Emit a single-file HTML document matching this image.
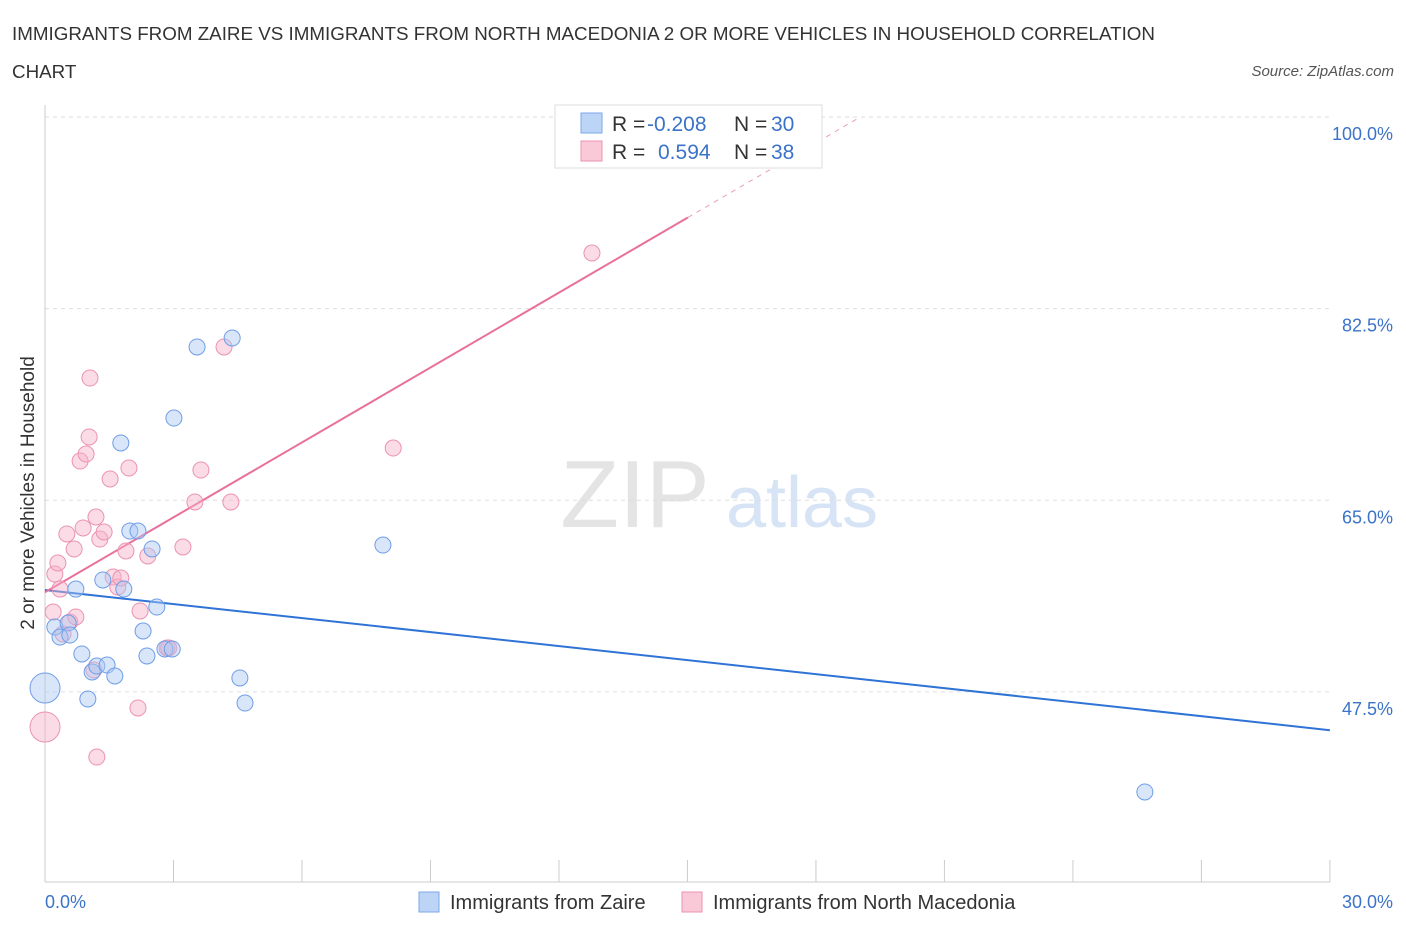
<!DOCTYPE html>
<html><head><meta charset="utf-8"><style>
body{margin:0;background:#fff;font-family:"Liberation Sans",sans-serif;}
svg text{font-family:"Liberation Sans",sans-serif;}
</style></head><body>
<svg id="c" width="1406" height="930">
<text x="12" y="40" font-size="18.8" fill="#333">IMMIGRANTS FROM ZAIRE VS IMMIGRANTS FROM NORTH MACEDONIA 2 OR MORE VEHICLES IN HOUSEHOLD CORRELATION</text>
<text x="12" y="78" font-size="18.8" fill="#333">CHART</text>
<text x="1394" y="76" font-size="15" fill="#555" font-style="italic" text-anchor="end">Source: ZipAtlas.com</text>
<text x="635" y="527" font-size="96" fill="#e4e4e4" font-family="Liberation Serif" text-anchor="middle">ZIP</text>
<text x="802" y="527" font-size="72" fill="#d6e4f5" text-anchor="middle">atlas</text>
<g id="grid"></g><g id="axes"></g><g id="lines"></g><g id="pts"></g>
<text x="34" y="493" font-size="19" fill="#333" text-anchor="middle" transform="rotate(-90 34 493)">2 or more Vehicles in Household</text>
<text x="45" y="908" font-size="18" fill="#3b73c8">0.0%</text>
<text x="1393" y="908" font-size="18" fill="#3b73c8" text-anchor="end">30.0%</text>
<g>
<rect x="419" y="892" width="20" height="20" fill="#bcd5f7" stroke="#7ba7e8"/>
<text x="450" y="909" font-size="20" fill="#333">Immigrants from Zaire</text>
<rect x="682" y="892" width="20" height="20" fill="#f9c9d8" stroke="#eb93b0"/>
<text x="713" y="909" font-size="20" fill="#333">Immigrants from North Macedonia</text>
</g>
<g>
<rect x="555" y="105" width="267" height="63" fill="#fff" stroke="#ddd"/>
<rect x="581" y="113" width="21" height="20" fill="#bcd5f7" stroke="#7ba7e8"/>
<rect x="581" y="141" width="21" height="20" fill="#f9c9d8" stroke="#eb93b0"/>
<text x="612" y="131" font-size="21" fill="#333">R = <tspan x="647" fill="#3b73c8">-0.208</tspan><tspan x="734">N = </tspan><tspan x="771" fill="#3b73c8">30</tspan></text>
<text x="612" y="159" font-size="21" fill="#333">R = <tspan x="658" fill="#3b73c8">0.594</tspan><tspan x="734">N = </tspan><tspan x="771" fill="#3b73c8">38</tspan></text>
</g>
</svg>
<script>
const yTicks=[100,82.5,65,47.5];
const yTickLabels=["100.0%","82.5%","65.0%","47.5%"];
const zaireX=[0,0.23,0.35,0.54,0.58,0.72,0.86,1.0,1.1,1.21,1.35,1.45,1.63,1.77,1.84,1.98,2.17,2.29,2.38,2.5,2.61,2.8,2.97,3.01,3.55,4.37,4.55,4.67,7.89,25.68];
const zaireY=[47.85,53.42,52.51,53.79,52.69,56.89,50.96,46.85,49.32,49.86,57.72,49.95,48.95,70.23,56.89,62.19,62.19,53.06,50.78,60.55,55.25,51.42,51.42,72.51,79.0,79.82,48.77,46.48,60.91,38.36];
const zaireR=[15,8,8,8,8,8,8,8,8,8,8,8,8,8,8,8,8,8,8,8,8,8,8,8,8,8,8,8,8,8];
const macX=[0,0.19,0.23,0.3,0.35,0.42,0.51,0.58,0.68,0.72,0.82,0.89,0.96,1.03,1.05,1.14,1.19,1.28,1.38,1.52,1.59,1.7,1.77,1.89,1.96,2.17,2.22,2.4,2.85,2.89,3.22,3.5,3.64,4.18,4.34,1.21,8.13,12.77];
const macY=[44.29,54.79,58.26,59.27,56.89,52.79,61.92,53.88,60.55,54.34,68.58,62.47,69.22,70.78,76.16,49.5,63.47,61.46,62.1,66.94,57.99,57.08,57.9,60.37,67.95,46.03,54.89,59.91,51.51,51.51,60.73,64.84,67.76,79.0,64.84,41.55,69.77,87.58];
const macR=[15,8,8,8,8,8,8,8,8,8,8,8,8,8,8,8,8,8,8,8,8,8,8,8,8,8,8,8,8,8,8,8,8,8,8,8,8,8];
const zaireTrend=[56.8,44.0];
const macTrend=[56.6,2.28];
const NS="http://www.w3.org/2000/svg";
const X=v=>45+v*42.83, Y=v=>117+(100-v)*10.95;
function mk(p,t,a){const e=document.createElementNS(NS,t);for(const k in a)e.setAttribute(k,a[k]);document.getElementById(p).appendChild(e);return e;}
yTicks.forEach((t,i)=>{
 const l=mk('grid','line',{x1:45,x2:1330,y1:Y(t),y2:Y(t),stroke:'#ddd','stroke-dasharray':'4,4'});
 
 
 const tx=mk('grid','text',{x:1393,y:Y(t)+23,'font-size':18,fill:'#3b73c8','text-anchor':'end'});
 tx.textContent=yTickLabels[i];
 
 
});
const ax=mk('axes','line',{x1:45,x2:45,y1:105,y2:882,stroke:'#ccc'});


const bx=mk('axes','line',{x1:45,x2:1330,y1:882,y2:882,stroke:'#ccc'});


for(let i=0;i<=10;i++){
 const t=mk('axes','line',{x1:X(i*3),x2:X(i*3),y1:860,y2:882,stroke:'#ccc'});
 
 
}
const bl=mk('lines','line',{x1:X(0),y1:Y(zaireTrend[0]),x2:X(30),y2:Y(zaireTrend[1]),stroke:'#2f73d6','stroke-width':2});


const xe=15.01, xd=(100-macTrend[0])/macTrend[1];
const pl=mk('lines','line',{x1:X(0),y1:Y(macTrend[0]),x2:X(xe),y2:Y(macTrend[0]+macTrend[1]*xe),stroke:'#e8709a','stroke-width':2});


const pd=mk('lines','line',{x1:X(xe),y1:Y(macTrend[0]+macTrend[1]*xe),x2:X(xd),y2:Y(100),stroke:'#e8a0b8','stroke-width':1,'stroke-dasharray':'5,5'});


macX.forEach((x,i)=>{
 const c=mk('pts','circle',{cx:X(x),cy:Y(macY[i]),r:macR[i],fill:'rgba(246,178,200,0.45)',stroke:'#eb93b0','stroke-width':1});
 
 
});
zaireX.forEach((x,i)=>{
 const c=mk('pts','circle',{cx:X(x),cy:Y(zaireY[i]),r:zaireR[i],fill:'rgba(170,200,245,0.45)',stroke:'#6e9ee6','stroke-width':1});
 
 
});
</script>
</body></html>
